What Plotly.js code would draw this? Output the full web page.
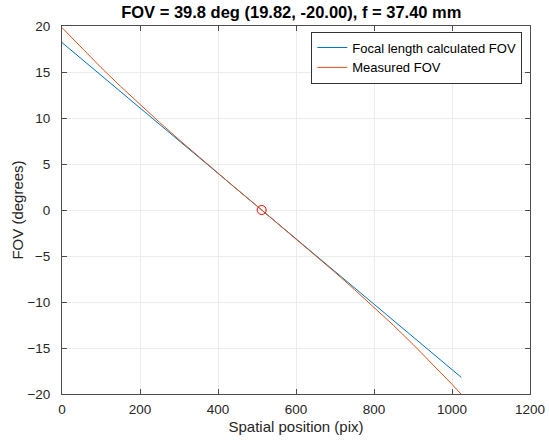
<!DOCTYPE html>
<html>
<head>
<meta charset="utf-8">
<script src="https://cdn.plot.ly/plotly-3.0.1.min.js"></script>
<style>html,body{margin:0;padding:0;background:#fff;}#chart{width:549px;height:443px;}</style>
</head>
<body>
<div id="chart"></div>
<script>
// Focal length calculated FOV (linear)
const calcX = [0, 1024];
const calcY = [18.2, -18.2];

// Measured FOV
const measX = [0, 50, 100, 150, 200, 250, 300, 350, 400, 450, 500, 512, 550, 600, 650, 700, 750, 800, 850, 900, 950, 1000, 1023];
const measY = [19.82, 17.60, 15.49, 13.44, 11.45, 9.53, 7.65, 5.81, 4.00, 2.20, 0.43, 0, -1.35, -3.14, -4.95, -6.77, -8.65, -10.57, -12.54, -14.60, -16.73, -18.95, -20.00];

// Center marker
const centerX = [512];
const centerY = [0];

const titleText = 'FOV = 39.8 deg (19.82, -20.00), f = 37.40 mm';
const xTitle = 'Spatial position (pix)';
const yTitle = 'FOV (degrees)';
const seriesNames = ['Focal length calculated FOV', 'Measured FOV'];
const xTicks = [0, 200, 400, 600, 800, 1000, 1200];
const yTicks = [-20, -15, -10, -5, 0, 5, 10, 15, 20];

const font = 'Liberation Sans, Arial, sans-serif';
const axisColor = '#262626';

const traces = [
  {x: calcX, y: calcY, mode: 'lines', name: seriesNames[0], line: {color: '#0072BD', width: 1}},
  {x: measX, y: measY, mode: 'lines', name: seriesNames[1], line: {color: '#D95319', width: 1}},
  {x: centerX, y: centerY, mode: 'markers', showlegend: false,
   marker: {symbol: 'circle-open', color: '#FF0000', size: 9, line: {width: 1}}}
];

const axisCommon = {
  showline: true, mirror: 'ticks', linecolor: '#4d4d4d', linewidth: 1,
  ticks: 'inside', ticklen: 5, tickcolor: '#4d4d4d',
  showgrid: true, gridcolor: '#ececec', gridwidth: 1,
  zeroline: false,
  tickfont: {family: font, size: 13.5, color: axisColor}
};

const layout = {
  width: 549, height: 443,
  margin: {l: 62, r: 19, t: 26, b: 49},
  paper_bgcolor: '#ffffff', plot_bgcolor: '#ffffff',
  title: {text: '<b>' + titleText + '</b>', font: {family: font, size: 16.5, color: '#000'},
          x: 0.49, xref: 'paper', xanchor: 'center', y: 1, yref: 'container', yanchor: 'top', pad: {t: 6}},
  xaxis: Object.assign({}, axisCommon, {
    range: [0, 1200], tickmode: 'array', tickvals: xTicks,
    ticklabelstandoff: 3,
    title: {text: xTitle, font: {family: font, size: 15, color: axisColor}, standoff: 5}
  }),
  yaxis: Object.assign({}, axisCommon, {
    range: [-20, 20], tickmode: 'array', tickvals: yTicks,
    ticklabelstandoff: 8,
    title: {text: yTitle, font: {family: font, size: 15, color: axisColor}, standoff: 0}
  }),
  legend: {
    x: 0.9835, xanchor: 'right', y: 0.985, yanchor: 'top',
    bgcolor: '#ffffff', bordercolor: '#333333', borderwidth: 1,
    font: {family: font, size: 13, color: '#000'},
    tracegroupgap: 0, itemwidth: 30
  },
  showlegend: true
};

Plotly.newPlot('chart', traces, layout, {staticPlot: true, displayModeBar: false});
</script>
</body>
</html>
